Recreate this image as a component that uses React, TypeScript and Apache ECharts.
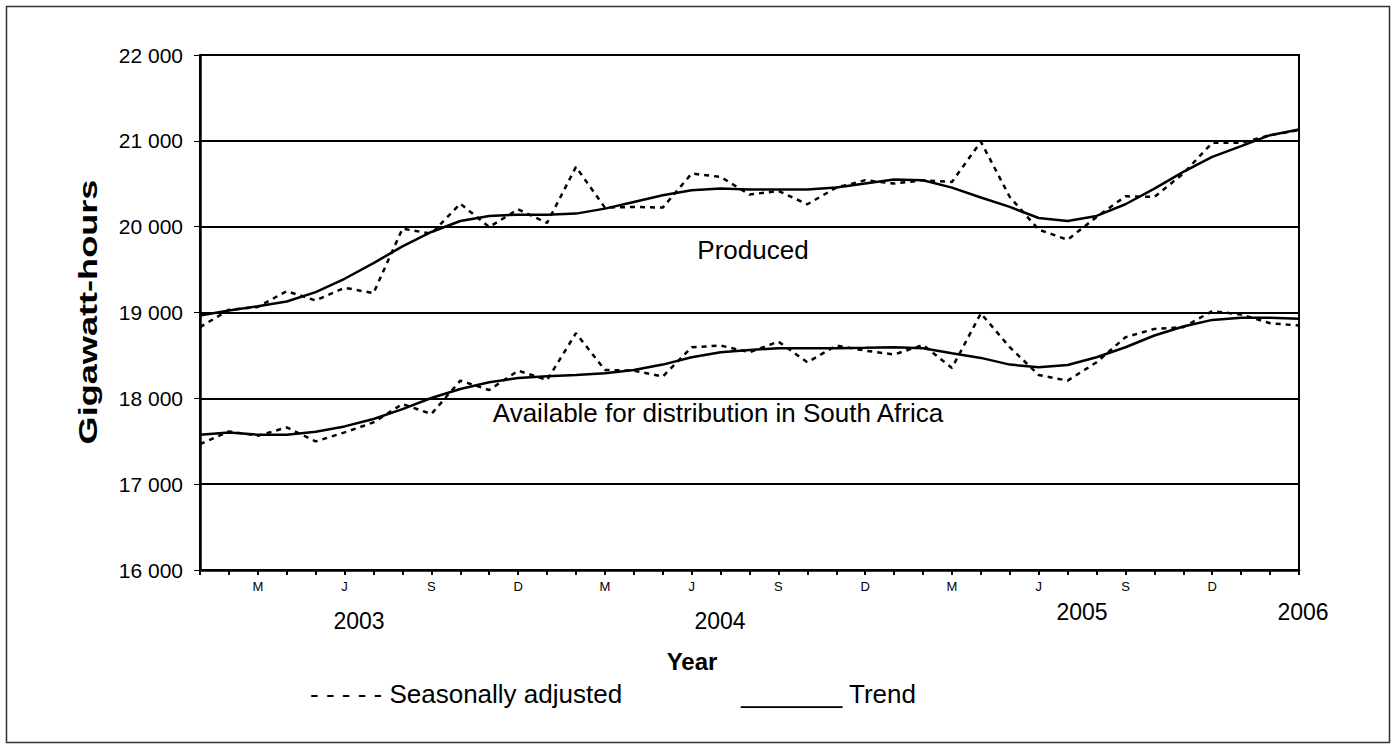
import React, { useEffect, useRef } from "react";
import * as echarts from "echarts";

const months = ["J","F","M","A","M","J","J","A","S","O","N","D","J","F","M","A","M","J","J","A","S","O","N","D","J","F","M","A","M","J","J","A","S","O","N","D","J","F","M"];
const shownMonthIdx = [2, 5, 8, 11, 14, 17, 20, 23, 26, 29, 32, 35];
const categories = months.map((m, i) => (shownMonthIdx.includes(i) ? m : ""));

const producedSA = [18829, 19031, 19065, 19249, 19140, 19288, 19226, 19977, 19918, 20268, 19996, 20202, 20043, 20696, 20222, 20230, 20222, 20619, 20580, 20374, 20416, 20261, 20455, 20541, 20502, 20541, 20521, 20990, 20346, 19965, 19848, 20113, 20354, 20346, 20619, 20977, 20977, 21066, 21125];
const producedTrend = [18965, 19023, 19074, 19128, 19237, 19393, 19576, 19770, 19938, 20066, 20125, 20140, 20140, 20152, 20210, 20288, 20366, 20424, 20444, 20432, 20432, 20432, 20455, 20502, 20549, 20541, 20455, 20340, 20230, 20101, 20066, 20125, 20261, 20444, 20638, 20813, 20938, 21066, 21132];
const availableSA = [17467, 17615, 17564, 17661, 17498, 17603, 17720, 17934, 17817, 18206, 18097, 18323, 18214, 18759, 18331, 18323, 18253, 18595, 18615, 18537, 18661, 18420, 18615, 18556, 18510, 18622, 18354, 18990, 18595, 18272, 18206, 18420, 18712, 18809, 18829, 19016, 18977, 18875, 18848];
const availableTrend = [17576, 17603, 17576, 17576, 17611, 17673, 17759, 17875, 18004, 18109, 18187, 18237, 18257, 18272, 18292, 18331, 18393, 18479, 18537, 18564, 18584, 18584, 18584, 18588, 18595, 18584, 18525, 18471, 18393, 18362, 18389, 18479, 18595, 18732, 18837, 18914, 18938, 18938, 18926];

const yearLabels = ["2003", "2004", "2005", "2006"];

const FONT = "'Liberation Sans', Arial, sans-serif";

export default function App() {
  const ref = useRef<HTMLDivElement>(null);
  useEffect(() => {
    if (!ref.current) return;
    const chart = echarts.init(ref.current, undefined, { renderer: "svg" });
    const dashed = { color: "#000", width: 2.5, type: [5, 5] as number[] };
    const solid = { color: "#000", width: 2.5, type: "solid" as const };
    const yearText = (text: string, x: number, y: number) => ({
      type: "text", x, y,
      style: { text, fill: "#000", font: `23px ${FONT}`, textAlign: "center", textVerticalAlign: "middle" },
    });
    chart.setOption({
      animation: false,
      backgroundColor: "#fff",
      grid: { left: 200, right: 95, top: 55, bottom: 175, show: true, borderColor: "#000", borderWidth: 2, containLabel: false },
      xAxis: {
        type: "category",
        data: categories,
        boundaryGap: false,
        axisLine: { show: true, lineStyle: { color: "#000", width: 2.5 } },
        axisTick: { show: true, interval: 0, length: 5, lineStyle: { color: "#000", width: 2 } },
        axisLabel: { interval: 0, color: "#000", fontSize: 13, fontFamily: FONT, margin: 10 },
        splitLine: { show: false },
      },
      yAxis: {
        type: "value",
        min: 16000,
        max: 22000,
        interval: 1000,
        axisLine: { show: true, lineStyle: { color: "#000", width: 2.5 } },
        axisTick: { show: true, length: 6, lineStyle: { color: "#000", width: 1 } },
        axisLabel: {
          color: "#000", fontSize: 21, fontFamily: FONT, margin: 17,
          formatter: (v: number) => String(v).replace(/\B(?=(\d{3})+(?!\d))/g, " "),
        },
        splitLine: { show: true, lineStyle: { color: "#000", width: 2 } },
      },
      series: [
        { name: "Produced SA", type: "line", data: producedSA, showSymbol: false, lineStyle: dashed, z: 3 },
        { name: "Produced trend", type: "line", data: producedTrend, showSymbol: false, lineStyle: solid, z: 4 },
        { name: "Available SA", type: "line", data: availableSA, showSymbol: false, lineStyle: dashed, z: 3 },
        { name: "Available trend", type: "line", data: availableTrend, showSymbol: false, lineStyle: solid, z: 4 },
      ],
      graphic: [
        { type: "rect", shape: { x: 6.5, y: 6.5, width: 1383, height: 736 }, style: { fill: "none", stroke: "#333", lineWidth: 1.5 }, z: -1 },
        {
          type: "text", x: 88, y: 312, rotation: Math.PI / 2, scaleX: 1.39,
          style: { text: "Gigawatt-hours", fill: "#000", font: `bold 26px ${FONT}`, textAlign: "center", textVerticalAlign: "middle" },
        },
        {
          type: "text", x: 753, y: 250,
          style: { text: "Produced", fill: "#000", font: `26px ${FONT}`, textAlign: "center", textVerticalAlign: "middle" },
        },
        {
          type: "text", x: 718, y: 413,
          style: { text: "Available for distribution in South Africa", fill: "#000", font: `26px ${FONT}`, textAlign: "center", textVerticalAlign: "middle" },
        },
        yearText(yearLabels[0], 359, 621),
        yearText(yearLabels[1], 720, 621),
        yearText(yearLabels[2], 1082, 612),
        yearText(yearLabels[3], 1303, 612),
        {
          type: "text", x: 692, y: 661,
          style: { text: "Year", fill: "#000", font: `bold 24px ${FONT}`, textAlign: "center", textVerticalAlign: "middle" },
        },
        {
          type: "text", x: 310, y: 694,
          style: { text: "- - - - - Seasonally adjusted", fill: "#000", font: `26px ${FONT}`, textAlign: "left", textVerticalAlign: "middle" },
        },
        {
          type: "text", x: 741, y: 694,
          style: { text: "_______ Trend", fill: "#000", font: `26px ${FONT}`, textAlign: "left", textVerticalAlign: "middle" },
        },
      ],
    });
    return () => chart.dispose();
  }, []);
  return <div ref={ref} style={{ position: "absolute", left: 0, top: 0, width: 1394, height: 745 }} />;
}
